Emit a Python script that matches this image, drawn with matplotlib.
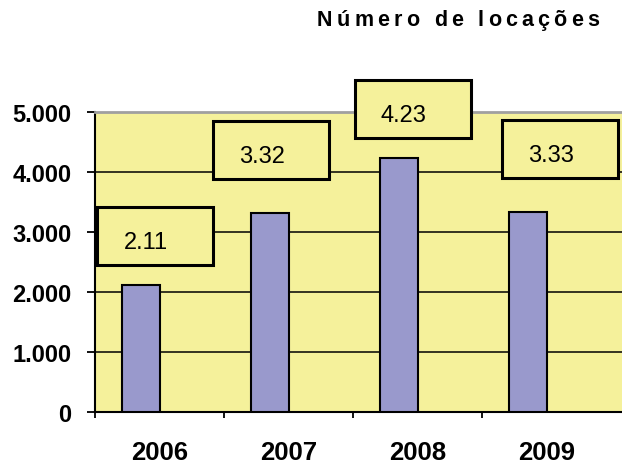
import matplotlib
matplotlib.use('Agg')
import matplotlib.pyplot as plt
from matplotlib.patches import Rectangle
from matplotlib.transforms import IdentityTransform
from matplotlib.ticker import FuncFormatter

# data
years = ['2006', '2007', '2008', '2009']
locacoes = [2110, 3320, 4230, 3330]
box_labels = ['2.11', '3.32', '4.23', '3.33']
title = 'Número de locações'

# label box centre, offset from top of bar in pixels (x, y up)
box_offsets = [(14, 49), (1, 63), (14, 49), (32, 63)]
box_w, box_h = 116, 58

yellow = '#F5F19B'
purple = '#9999CC'

plt.rcParams['font.family'] = ['Liberation Sans', 'DejaVu Sans']

fig = plt.figure(figsize=(6.22, 4.64), dpi=100)
ax = fig.add_axes([95/622, 1 - 413/464, 1 - 95/622, 300/464])
ax.set_facecolor(yellow)

idx = list(range(len(years)))
bar_x = [i - 0.145 for i in idx]
ax.bar(bar_x, locacoes, width=0.29, color=purple, edgecolor='black', linewidth=1.5, zorder=3)

ax.set_ylim(0, 5000)
ax.set_xlim(-0.5, -0.5 + 527/129)
ax.set_yticks(range(0, 5001, 1000))
ax.yaxis.set_major_formatter(FuncFormatter(lambda v, p: '0' if v == 0 else f'{int(v):,}'.replace(',', '.')))
ax.grid(True, axis='y', color='black', linewidth=1.1, zorder=1)
ax.set_axisbelow(True)

# boundaries get the tick marks, centres get the labels
ax.set_xticks([i - 0.5 for i in idx])
ax.set_xticklabels([])
ax.set_xticks(idx, minor=True)
ax.set_xticklabels(years, minor=True, fontsize=18.5, fontweight='bold')
ax.tick_params(axis='x', which='major', direction='out', length=4.5, width=1.3)
ax.tick_params(axis='x', which='minor', length=0, pad=20)
ax.tick_params(axis='y', direction='out', length=6, width=1.3, pad=11, labelsize=17)
for lab in ax.get_yticklabels():
    lab.set_fontweight('bold')

for s in ['left', 'bottom']:
    ax.spines[s].set_color('black')
    ax.spines[s].set_linewidth(1.5)
ax.spines['top'].set_color('#A0A0A0')
ax.spines['top'].set_linewidth(2)
ax.spines['right'].set_visible(False)

for x, v, lab, off in zip(bar_x, locacoes, box_labels, box_offsets):
    px, py = ax.transData.transform((x, v))
    cx, cy = px + off[0], py + off[1]
    rect = Rectangle((cx - box_w / 2, cy - box_h / 2), box_w, box_h, transform=IdentityTransform(),
                     facecolor=yellow, edgecolor='black', linewidth=2.2, zorder=5, clip_on=False)
    ax.add_artist(rect)
    ax.annotate(lab, xy=(x, v), xytext=(off[0] - 9, off[1] - 6), textcoords='offset pixels',
                ha='center', va='center', fontsize=17, zorder=6, annotation_clip=False)

# letter-spaced title, one character at a time
fig.canvas.draw()
r = fig.canvas.get_renderer()
tx = 317
fs = 15.5
gap = 4.2
for ch in title:
    if ch == ' ':
        tx += 0.278 * fs * 100 / 72 + gap
        continue
    t = fig.text(tx / 622, 1 - 10 / 464, ch, ha='left', va='top', fontsize=fs, fontweight='bold')
    tx += t.get_window_extent(renderer=r).width + gap

fig.savefig('out.png', dpi=100)
